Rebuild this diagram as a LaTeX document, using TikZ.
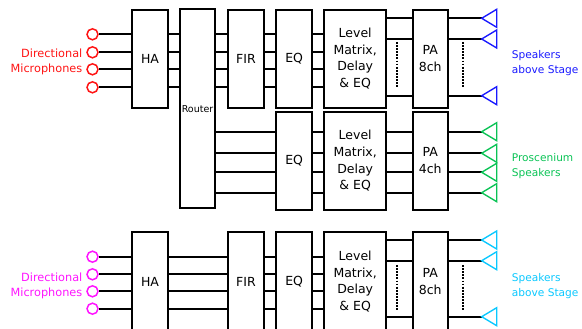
\documentclass[tikz,border=0pt]{standalone}
\usepackage{fontspec}
\setmainfont{DejaVu Sans}
\definecolor{micred}{RGB}{255,20,20}
\definecolor{micpink}{RGB}{255,20,255}
\definecolor{spkblue}{RGB}{25,25,255}
\definecolor{spkgreen}{RGB}{10,195,85}
\definecolor{spkcyan}{RGB}{10,200,255}
\begin{document}
\begin{tikzpicture}[x=1pt,y=-1pt,
  unit/.style={draw,line width=1.9pt,inner sep=0pt,align=center,minimum width=36pt,minimum height=98pt,font=\fontsize{12.5}{16.7}\selectfont},
  wire/.style={line width=2pt},
  mic/.style={circle,draw,line width=1.5pt,minimum size=11pt,inner sep=0pt},
  spk/.style={line width=1.4pt,line join=miter},
  lbl/.style={inner sep=0pt,font=\fontsize{11.3}{15}\selectfont},
  slbl/.style={inner sep=0pt,font=\fontsize{10.6}{15}\selectfont},
  dots/.style={line width=2pt,dash pattern=on 1.8pt off 1.3pt}]
\clip (0,0) rectangle (582,329);
% upper chain
\node[unit] (ha) at (150,58.7) {HA};
\node[unit,minimum width=35pt,minimum height=199pt,font=\fontsize{9.5}{11}\selectfont] (rtr) at (197.5,108.8) {Router};
\node[unit] (fir) at (246,58.7) {FIR};
\node[unit] (eq) at (294.2,58.7) {EQ};
\node[unit,minimum width=61.7pt] (lvl) at (355.2,58.7) {Level\\Matrix,\\Delay\\\& EQ};
\node[unit,minimum width=35pt] (pa) at (430.2,58.7) {PA\\8ch};
% proscenium chain
\node[unit] (eqP) at (294.2,160.8) {EQ};
\node[unit,minimum width=61.7pt] (lvlP) at (355.2,160.8) {Level\\Matrix,\\Delay\\\& EQ};
\node[unit,minimum width=35pt] (paP) at (430.2,160.8) {PA\\4ch};
% lower chain
\node[unit,minimum height=100pt] (haL) at (150,281.7) {HA};
\node[unit,minimum height=100pt] (firL) at (246,281.7) {FIR};
\node[unit,minimum height=100pt] (eqL) at (294.2,281.7) {EQ};
\node[unit,minimum width=61.7pt,minimum height=100pt] (lvlL) at (355.2,281.7) {Level\\Matrix,\\Delay\\\& EQ};
\node[unit,minimum width=35pt,minimum height=100pt] (paL) at (430.2,281.7) {PA\\8ch};

% microphones, upper
\foreach \y [count=\i] in {34.3,52.3,69.3,87.3}{
  \node[mic,draw=micred] (m\i) at (92.5,\y) {};
  \draw[wire] (m\i) -- (m\i -| ha.west);
  \draw[wire] (ha.east |- m\i) -- (rtr.west |- m\i);
  \draw[wire] (rtr.east |- m\i) -- (fir.west |- m\i);
  \draw[wire] (fir.east |- m\i) -- (eq.west |- m\i);
  \draw[wire] (eq.east |- m\i) -- (lvl.west |- m\i);
}
\node[lbl,text=micred,anchor=base east] (micA1) at (82.5,57.3) {Directional};
\node[lbl,text=micred,anchor=base east] (micA2) at (82.5,72.7) {Microphones};
\foreach \y [count=\i] in {18.3,39,95.7}{
  \coordinate (sa\i) at (481.7,\y);
  \draw[wire] (lvl.east |- sa\i) -- (pa.west |- sa\i);
  \draw[wire] (pa.east |- sa\i) -- (sa\i);
  \draw[spk,draw=spkblue] (sa\i) -- ++(15,-9) -- ++(0,18) -- cycle;
}
\draw[dots] (397.3,42) -- (397.3,88);
\draw[dots] (462.7,42) -- (462.7,88);
\node[slbl,text=spkblue,anchor=base west] (spkA1) at (511.7,58.3) {Speakers};
\node[slbl,text=spkblue,anchor=base west] (spkA2) at (511.7,73.3) {above Stage};

% proscenium feeds
\foreach \y [count=\i] in {131.7,153.3,172.3,192.7}{
  \coordinate (sp\i) at (481.7,\y);
  \draw[wire] (rtr.east |- sp\i) -- (eqP.west |- sp\i);
  \draw[wire] (eqP.east |- sp\i) -- (lvlP.west |- sp\i);
  \draw[wire] (lvlP.east |- sp\i) -- (paP.west |- sp\i);
  \draw[wire] (paP.east |- sp\i) -- (sp\i);
  \draw[spk,draw=spkgreen] (sp\i) -- ++(15,-9) -- ++(0,18) -- cycle;
}
\node[slbl,text=spkgreen,anchor=base west] (spkP1) at (511.7,161.5) {Proscenium};
\node[slbl,text=spkgreen,anchor=base west] (spkP2) at (511.7,176) {Speakers};

% microphones, lower
\foreach \y [count=\i] in {256.7,274.3,291.3,308.7}{
  \node[mic,draw=micpink] (n\i) at (92.5,\y) {};
  \draw[wire] (n\i) -- (n\i -| haL.west);
  \draw[wire] (haL.east |- n\i) -- (firL.west |- n\i);
  \draw[wire] (firL.east |- n\i) -- (eqL.west |- n\i);
  \draw[wire] (eqL.east |- n\i) -- (lvlL.west |- n\i);
}
\node[lbl,text=micpink,anchor=base east] (micL1) at (82.5,281) {Directional};
\node[lbl,text=micpink,anchor=base east] (micL2) at (82.5,296) {Microphones};
\foreach \y [count=\i] in {240,260.7,316.7}{
  \coordinate (sl\i) at (481.7,\y);
  \draw[wire] (lvlL.east |- sl\i) -- (paL.west |- sl\i);
  \draw[wire] (paL.east |- sl\i) -- (sl\i);
  \draw[spk,draw=spkcyan] (sl\i) -- ++(15,-9) -- ++(0,18) -- cycle;
}
\draw[dots] (397.3,265) -- (397.3,310);
\draw[dots] (462.7,265) -- (462.7,310);
\node[slbl,text=spkcyan,anchor=base west] (spkL1) at (511.7,281.7) {Speakers};
\node[slbl,text=spkcyan,anchor=base west] (spkL2) at (511.7,296) {above Stage};
\end{tikzpicture}
\end{document}
